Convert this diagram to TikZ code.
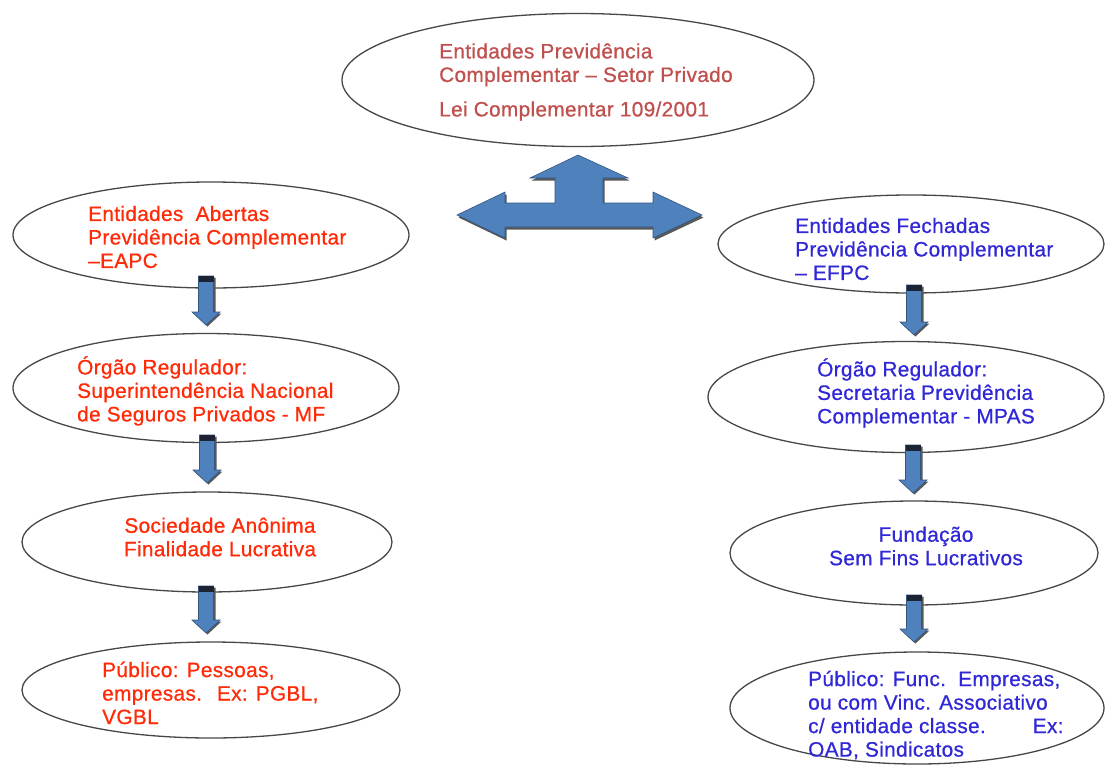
\documentclass[tikz,border=0pt]{standalone}
\usepackage{fontspec}
\setmainfont{Liberation Sans}[LetterSpace=1.6, FakeBold=0.7]
\usetikzlibrary{shapes.geometric}

\definecolor{toptext}{RGB}{192,80,77}
\definecolor{opentext}{RGB}{255,42,8}
\definecolor{closedtext}{RGB}{48,40,215}
\definecolor{arrowfill}{RGB}{79,129,189}
\definecolor{arrowline}{RGB}{52,86,130}
\definecolor{arrowtop}{RGB}{28,36,52}

\tikzset{
  ell/.style={ellipse, draw=black!72, line width=1.3pt, fill=white, inner sep=0pt},
  lbl/.style={inner sep=0pt, font=\fontsize{20.8}{23.5}\selectfont},
  blockarrow/.style={fill=arrowfill, draw=arrowline, line width=0.6pt, line join=miter},
  blockshadow/.style={fill=black!65, draw=none}
}

% vertical block arrow: x, top y, tip y
\newcommand\downblock[3]{%
  \path[blockshadow] (#1-6.5,#2+1.5) -- (#1+9.5,#2+1.5) -- (#1+9.5,#3-11.5) -- (#1+15.5,#3-11.5)
    -- (#1+1.5,#3+1.5) -- (#1-12.5,#3-11.5) -- (#1-6.5,#3-11.5) -- cycle;
  \draw[blockarrow] (#1-7.5,#2) -- (#1+7.5,#2) -- (#1+7.5,#3-13) -- (#1+14,#3-13)
    -- (#1,#3) -- (#1-14,#3-13) -- (#1-7.5,#3-13) -- cycle;
  \fill[arrowtop] (#1-7.5,#2) rectangle (#1+7.5,#2+6);
}

\begin{document}
\begin{tikzpicture}[x=1pt,y=-1pt]
\useasboundingbox[fill=white] (0,0) rectangle (1106,766);

% ---- ellipses ----
\node[ell, minimum width=472, minimum height=133] (top) at (578,80) {};
\node[ell, minimum width=396, minimum height=106] (ab1) at (211,235) {};
\node[ell, minimum width=386, minimum height=109] (ab2) at (206,388) {};
\node[ell, minimum width=370, minimum height=100] (ab3) at (207,542) {};
\node[ell, minimum width=378, minimum height=96]  (ab4) at (211,690) {};
\node[ell, minimum width=386, minimum height=98]  (fe1) at (911,244) {};
\node[ell, minimum width=396, minimum height=111] (fe2) at (906,397) {};
\node[ell, minimum width=368, minimum height=104] (fe3) at (914,553) {};
\node[ell, minimum width=374, minimum height=112] (fe4) at (917,708) {};

% ---- texts ----
\node[lbl, text=toptext, align=left, anchor=west] (topt) at (439,82)
  {Entidades Previdência\\Complementar -- Setor Privado\\[11pt]Lei Complementar 109/2001};

\node[lbl, text=opentext, align=left, anchor=west] (ab1t) at (88,237)
  {Entidades\ \ Abertas\\Previdência Complementar\\--EAPC};
\node[lbl, text=opentext, align=left, anchor=west] (ab2t) at (77,391)
  {Órgão Regulador:\\Superintendência Nacional\\de Seguros Privados - MF};
\node[lbl, text=opentext, align=center] (ab3t) at (220,537)
  {Sociedade Anônima\\Finalidade Lucrativa};
\node[lbl, text=opentext, align=left, anchor=west] (ab4t) at (102,693)
  {Público: Pessoas,\\empresas.\hspace{15pt}Ex: PGBL,\\VGBL};

\node[lbl, text=closedtext, align=left, anchor=west] (fe1t) at (795,249)
  {Entidades\ Fechadas\\Previdência Complementar\\-- EFPC};
\node[lbl, text=closedtext, align=left, anchor=west] (fe2t) at (817,393)
  {Órgão Regulador:\\Secretaria Previdência\\Complementar - MPAS};
\node[lbl, text=closedtext, align=center] (fe3t) at (926,546)
  {Fundação\\Sem Fins Lucrativos};
\node[lbl, text=closedtext, align=left, anchor=west] (fe4t) at (808,715)
  {Público: Func.\ \ Empresas,\\ou com Vinc. Associativo\\c/ entidade classe.\hspace{47pt}Ex:\\OAB, Sindicatos};

% ---- three-way block arrow ----
\path[blockshadow, shift={(1.5,2.5)}] (578,155) -- (628,178) -- (603,178) -- (603,203) -- (653,203)
  -- (653,192) -- (702,215) -- (653,238) -- (653,227) -- (505,227) -- (505,238)
  -- (457,215) -- (505,192) -- (505,203) -- (555,203) -- (555,178) -- (530,178) -- cycle;
\draw[blockarrow] (578,155) -- (628,178) -- (603,178) -- (603,203) -- (653,203)
  -- (653,192) -- (702,215) -- (653,238) -- (653,227) -- (505,227) -- (505,238)
  -- (457,215) -- (505,192) -- (505,203) -- (555,203) -- (555,178) -- (530,178) -- cycle;

% ---- down arrows ----
\downblock{206}{276}{325}
\downblock{207}{435}{483}
\downblock{206}{586}{633}
\downblock{914}{285}{335}
\downblock{913}{445}{493}
\downblock{914}{595}{642}
\end{tikzpicture}
\end{document}
